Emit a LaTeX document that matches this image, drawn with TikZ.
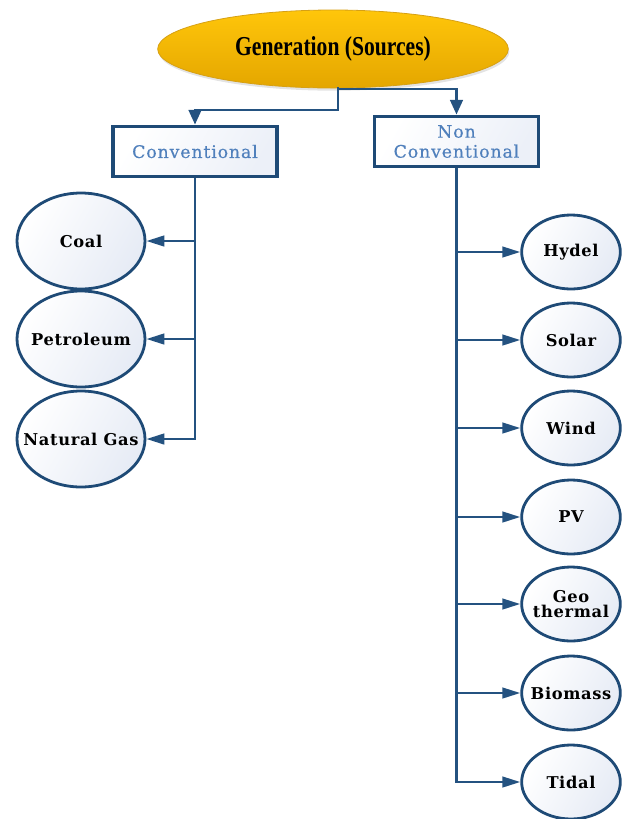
\documentclass[tikz,border=0pt]{standalone}
\usepackage{fontspec}
\usepackage{graphicx}
\setmainfont{DejaVu Serif}
\newfontfamily\titlefont{Liberation Serif}
\newfontfamily\labelfont[LetterSpace=4]{DejaVu Serif}
\newfontfamily\boxfont[LetterSpace=5, FakeBold=0.4]{DejaVu Serif}
\usetikzlibrary{arrows.meta,shapes.geometric,shadows}

\definecolor{linec}{RGB}{36,82,128}
\definecolor{edgec}{RGB}{30,74,118}
\definecolor{boxtext}{RGB}{80,128,188}
\definecolor{paleblue}{RGB}{230,235,245}
\definecolor{boxblue}{RGB}{236,240,248}
\definecolor{goldtop}{RGB}{255,198,10}
\definecolor{goldbot}{RGB}{228,166,0}
\definecolor{goldedge}{RGB}{214,160,20}

\tikzset{
  conn/.style={draw=linec, line width=1.8pt},
  tip/.style={-{Triangle[length=13.5pt, width=8pt]}},
  bigtip/.style={-{Triangle[length=11pt, width=9.5pt]}},
  bubble/.style={ellipse, draw=edgec, line width=2.1pt, inner sep=0pt,
    left color=white, right color=paleblue, shading angle=60},
  bubbletext/.style={font=\labelfont\bfseries\fontsize{12.2pt}{13pt}\selectfont,
    align=center, text=black, inner sep=0pt},
  bigbubble/.style={bubble, minimum width=96pt, minimum height=72pt},
  smallbubble/.style={bubble, minimum width=74pt, minimum height=55.5pt},
  catbox/.style={rectangle, draw=edgec, line width=2.4pt,
    left color=white, right color=boxblue, shading angle=60,
    minimum width=123pt, minimum height=38pt, align=center,
    text=boxtext, font=\boxfont\fontsize{13pt}{15pt}\selectfont},
  rootnode/.style={ellipse, draw=goldedge, line width=0.6pt,
    top color=goldtop, bottom color=goldbot,
    minimum width=263pt, minimum height=58.5pt,
    drop shadow={opacity=0.22, shadow xshift=0.8pt, shadow yshift=-2pt},
    font=\titlefont\bfseries\fontsize{20.5pt}{22pt}\selectfont}
}

\begin{document}
\begin{tikzpicture}[x=0.75pt, y=-0.75pt]
\useasboundingbox (0,0) rectangle (625,819);

% root
\node[rootnode] (gen) at (333,49) {\scalebox{0.79}[1]{Generation (Sources)}};

% categories
\node[catbox] (conv) at (195,151.5) {Conventional};
\node[catbox] (ncon) at (456.5,141.5) {Non\\Conventional};

% conventional sources (labels overlaid so the ellipse size stays fixed)
\node[bigbubble, label={[bubbletext]center:Coal}] (coal) at (81,241) {};
\node[bigbubble, label={[bubbletext]center:Petroleum}] (petrol) at (81,339) {};
\node[bigbubble, label={[bubbletext]center:Natural Gas}] (gas) at (81,439) {};

% non-conventional sources
\node[smallbubble, label={[bubbletext]center:Hydel}] (hydel) at (571,252) {};
\node[smallbubble, label={[bubbletext]center:Solar}] (solar) at (571,340) {};
\node[smallbubble, label={[bubbletext]center:Wind}] (wind) at (571,428) {};
\node[smallbubble, label={[bubbletext]center:PV}] (pv) at (571,517) {};
\node[smallbubble, label={[bubbletext]center:Geo\\[-2pt]thermal}] (geo) at (571,604) {};
\node[smallbubble, label={[bubbletext]center:Biomass}] (bio) at (571,693) {};
\node[smallbubble, label={[bubbletext]center:Tidal}] (tidal) at (571,782) {};

% root to categories
\coordinate (split) at (338,87);
\draw[conn, bigtip] (split) -- (338,110) -| (conv.north);
\draw[conn, bigtip] (split) -- (338,89) -| (ncon.north);

% conventional trunk and branches
\draw[conn, tip] (conv.south) |- (gas.east);
\draw[conn, tip] (conv.south |- coal.east) -- (coal.east);
\draw[conn, tip] (conv.south |- petrol.east) -- (petrol.east);

% non-conventional trunk and branches
\draw[conn, tip] (ncon.south) |- (tidal.west);
\foreach \n in {hydel,solar,wind,pv,geo,bio}
  \draw[conn, tip] (ncon.south |- \n.west) -- (\n.west);
\end{tikzpicture}
\end{document}
